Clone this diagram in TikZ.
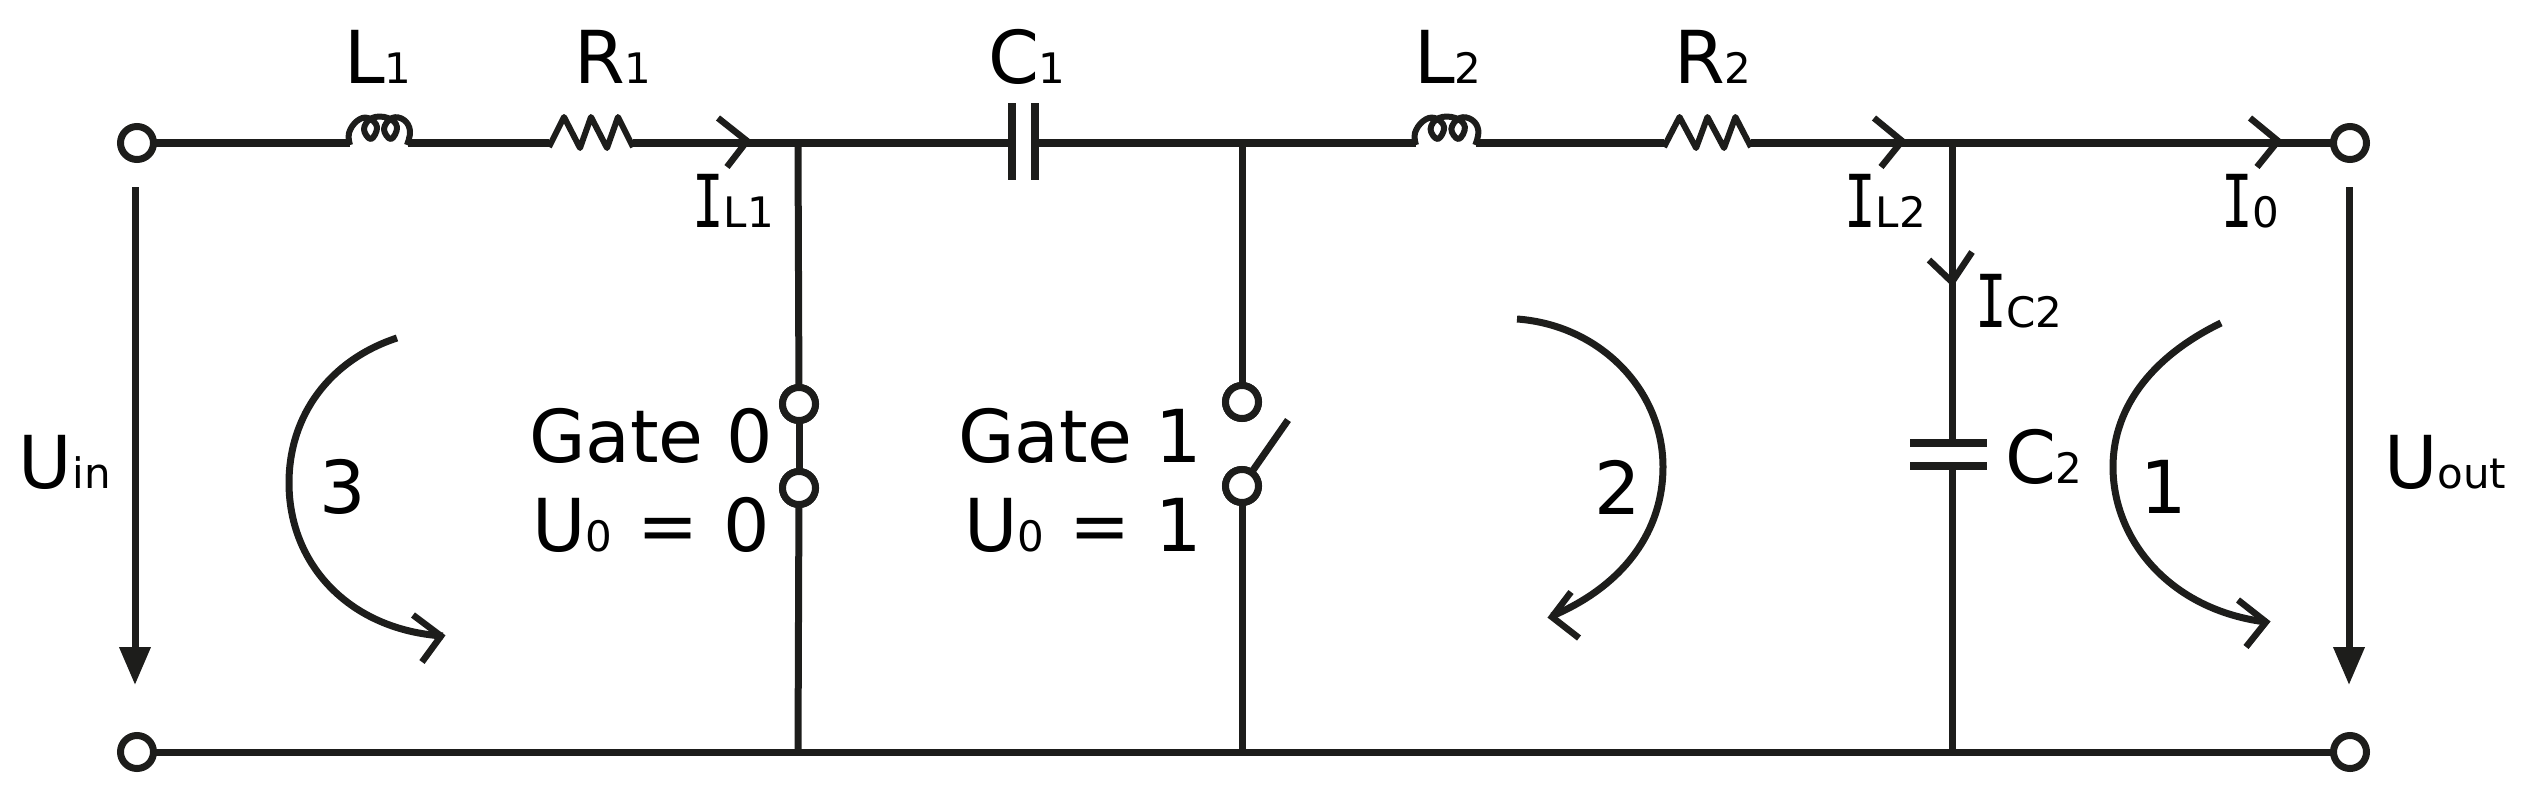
\documentclass[tikz,border=0pt]{standalone}
\usepackage{fontspec}
\usepackage{graphicx}
\setmainfont{DejaVu Sans}
\newfontfamily\slabfont{DejaVu Sans Mono}
\usetikzlibrary{arrows.meta}
\definecolor{ink}{HTML}{1D1D1B}
\newcommand{\sbs}[1]{{\fontsize{42}{46}\selectfont #1}}
\newcommand{\curI}{{\slabfont\scalebox{0.72}[1]{I}}}
\tikzset{
  x=1pt,y=-1pt,
  wire/.style={draw=ink,line width=7pt},
  thickwire/.style={draw=ink,line width=8pt},
  comp/.style={draw=ink,line width=6pt,line join=round},
  plate/.style={draw=ink,line width=8pt},
  terminal/.style={circle,draw=ink,line width=7pt,fill=white,minimum size=33pt,inner sep=0pt,outer sep=0pt},
  volt/.style={draw=ink,line width=7pt,-{Triangle[length=38pt,width=30pt]}},
  vee/.style={draw=ink,line width=6.5pt,line join=miter},
  loopline/.style={draw=ink,line width=7pt},
  lab/.style={anchor=base west,inner sep=0pt,outer sep=0pt,text=black,xshift=-4pt,font=\fontsize{73}{80}\selectfont},
  coil/.pic={\draw[comp] plot[smooth,tension=0.7] coordinates {(0,2) (-1,-10) (7,-22) (18,-25) (27,-16) (21,-4) (14,-14) (22,-25) (38,-25) (47,-16) (41,-4) (34,-14) (42,-25) (54,-23) (60,-12) (57,2)};},
  zigzag/.pic={\draw[comp] (0,4) -- (15,-26) -- (31,5) -- (42,-26) -- (58,5) -- (69,-26) -- (84,4);}
}
\begin{document}
\begin{tikzpicture}
\useasboundingbox (0,0) rectangle (2544,800);
% terminals
\node[terminal] (Tin) at (137,143) {};
\node[terminal] (Tgi) at (137,752) {};
\node[terminal] (Tout) at (2350,143) {};
\node[terminal] (Tgo) at (2350,752) {};
% junctions
\coordinate (J1) at (798,143);
\coordinate (J2) at (1242,143);
\coordinate (J3) at (1952,143);
\coordinate (B1) at (798,752);
\coordinate (B2) at (1242,752);
\coordinate (B3) at (1952,752);
% component ends
\coordinate (L1a) at (350,143);
\coordinate (L1b) at (408,143);
\coordinate (R1a) at (549,143);
\coordinate (R1b) at (633,143);
\coordinate (C1a) at (1012,143);
\coordinate (C1b) at (1035,143);
\coordinate (L2a) at (1416,143);
\coordinate (L2b) at (1476,143);
\coordinate (R2a) at (1664,143);
\coordinate (R2b) at (1751,143);
\coordinate (C2a) at (1952,443);
\coordinate (C2b) at (1952,466);
% switches
\node[terminal] (S00) at (799,404) {};
\node[terminal] (S01) at (799,488) {};
\node[terminal] (S10) at (1242,402) {};
\node[terminal] (S11) at (1242,486) {};
\coordinate (Blade) at (1288,420);
% top wire
\draw[thickwire] (Tin) -- (L1a);
\draw[thickwire] (L1b) -- (R1a);
\draw[thickwire] (R1b) -- (J1) -- (C1a);
\draw[thickwire] (C1b) -- (J2) -- (L2a);
\draw[thickwire] (L2b) -- (R2a);
\draw[thickwire] (R2b) -- (J3) -- (Tout);
% bottom wire
\draw[wire] (Tgi) -- (B1) -- (B2) -- (B3) -- (Tgo);
% branches
\draw[wire] (J1) -- (S00);
\draw[wire] (S00) -- (S01);
\draw[wire] (S01) -- (B1);
\draw[wire] (J2) -- (S10);
\draw[wire] (S11) -- (B2);
\draw[wire] (S11) -- (Blade);
\draw[wire] (J3) -- (C2a);
\draw[wire] (C2b) -- (B3);
% redraw terminals above the wires
\node[terminal] at (S00) {};
\node[terminal] at (S01) {};
\node[terminal] at (S10) {};
\node[terminal] at (S11) {};
% inductors and resistors
\pic at (L1a) {coil};
\pic[xscale=1.04] at (L2a) {coil};
\pic at (R1a) {zigzag};
\pic[xscale=1.035] at (R2a) {zigzag};
% capacitors
\draw[plate] (1012,103) -- (C1a) -- (1012,180);
\draw[plate] (1035,103) -- (C1b) -- (1035,180);
\draw[plate] (1910,443) -- (C2a) -- (1987,443);
\draw[plate] (1910,466) -- (C2b) -- (1987,466);
% voltage arrows
\coordinate (UinA) at (135,187);
\coordinate (UinB) at (135,685);
\coordinate (UoutA) at (2349,187);
\coordinate (UoutB) at (2349,685);
\draw[volt] (UinA) -- (UinB);
\draw[volt] (UoutA) -- (UoutB);
% current arrowheads
\draw[vee] (718,118) -- (747,141) -- (727,167);
\draw[vee] (1874,118) -- (1902,141) -- (1881,167);
\draw[vee] (2250,118) -- (2278,141) -- (2257,167);
\draw[vee] (1929,260) -- (1952,282) -- (1972,252);
% mesh arrows
\draw[loopline] (397,338) .. controls (330,360) and (289,415) .. (289,483) .. controls (289,565) and (350,630) .. (443,636);
\draw[vee] (413,615) -- (441,636) -- (422,662);
\draw[loopline] (1517,319) .. controls (1600,325) and (1663,390) .. (1663,467) .. controls (1663,530) and (1625,585) .. (1552,616);
\draw[vee] (1571,592) -- (1552,617) -- (1579,638);
\draw[loopline] (2221,323) .. controls (2155,355) and (2113,405) .. (2113,467) .. controls (2113,540) and (2170,610) .. (2266,622);
\draw[vee] (2238,600) -- (2266,622) -- (2246,647);
% labels
\node[lab] (tL1) at (348,84) {L\sbs{1}};
\node[lab] (tR1) at (578,84) {R\sbs{1}};
\node[lab] (tC1) at (992,84) {C\sbs{1}};
\node[lab] (tL2) at (1418,84) {L\sbs{2}};
\node[lab] (tR2) at (1678,84) {R\sbs{2}};
\node[lab] (tIL1) at (696,227) {\curI\sbs{L1}};
\node[lab] (tIL2) at (1848,227) {\curI\sbs{L2}};
\node[lab] (tI0) at (2225,227) {\curI\sbs{0}};
\node[lab] (tIC2) at (1979,327) {\curI\sbs{C2}};
\node[lab] (tC2) at (2009,483) {C\sbs{2}};
\node[lab] (tUin) at (23,488) {U\sbs{in}};
\node[lab] (tUout) at (2388,488) {U\sbs{out}};
\node[lab] (tG0) at (533,462) {Gate 0};
\node[lab] (tU0) at (536,551) {U\sbs{0}\hspace{2pt} = \hspace{2pt}0};
\node[lab] (tG1) at (962,462) {Gate 1};
\node[lab] (tU1) at (968,551) {U\sbs{0}\hspace{2pt} = \hspace{2pt}1};
\node[lab] (tM3) at (323,513) {3};
\node[lab] (tM2) at (1598,514) {2};
\node[lab] (tM1) at (2144,513) {1};
\end{tikzpicture}
\end{document}
